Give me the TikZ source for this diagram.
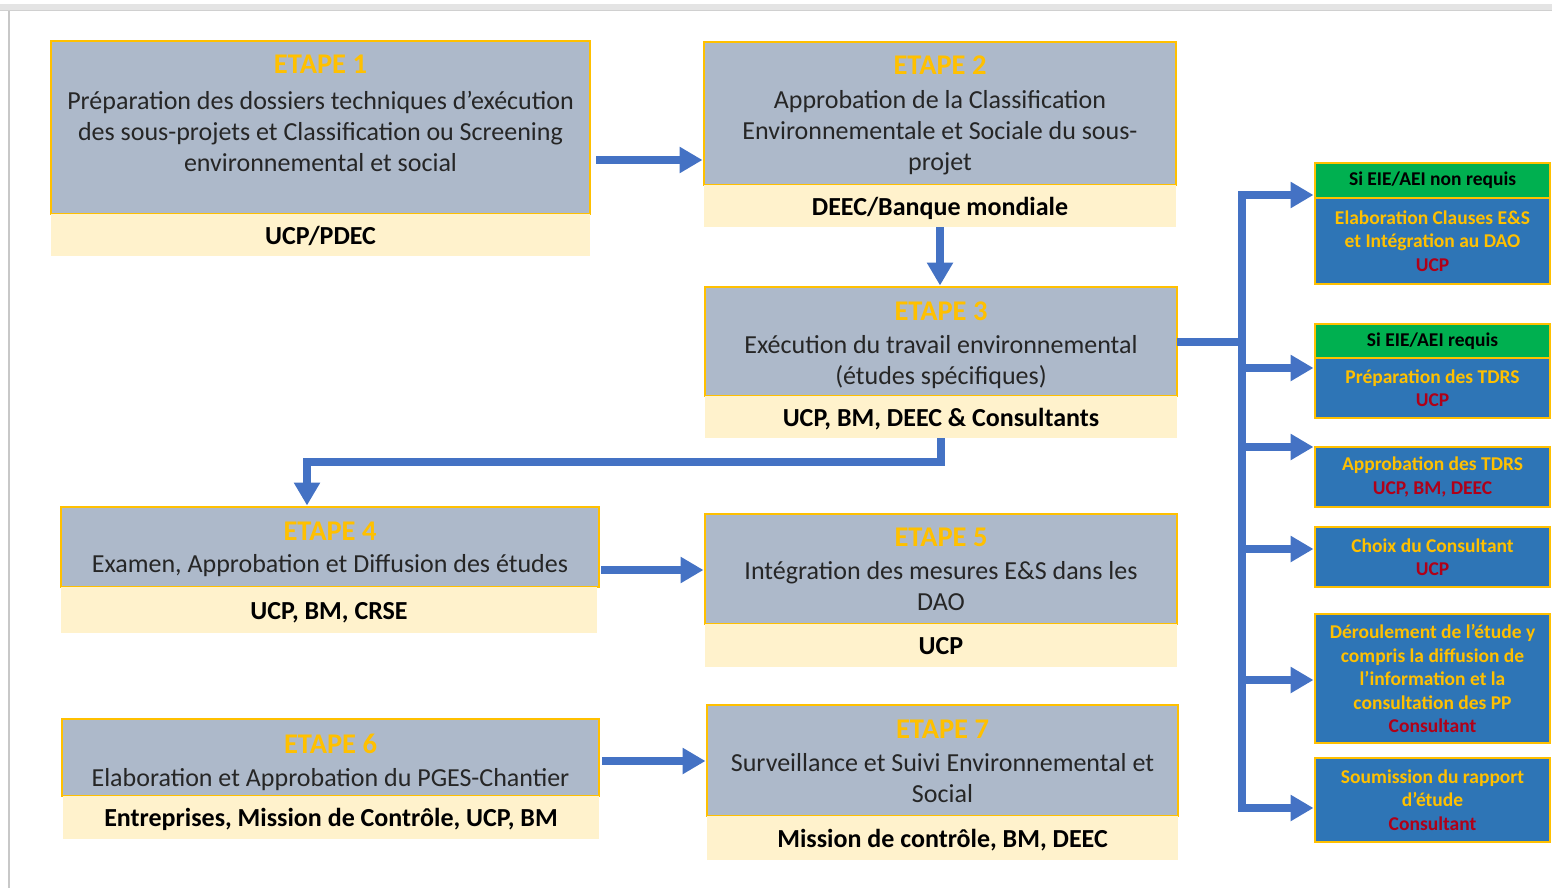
\documentclass[tikz,border=0pt]{standalone}
\usepackage{fontspec}
\setmainfont{Carlito}
\usetikzlibrary{arrows.meta}
\definecolor{graybox}{HTML}{ADB9CA}
\definecolor{beige}{HTML}{FFF2CC}
\definecolor{gold}{HTML}{FFC000}
\definecolor{arrowblue}{HTML}{4472C4}
\definecolor{boxblue}{HTML}{2E75B6}
\definecolor{boxgreen}{HTML}{00B050}
\definecolor{darkred}{HTML}{B00018}
\definecolor{txt}{HTML}{262626}
\definecolor{barfill}{HTML}{E4E4E4}
\definecolor{barline}{HTML}{D0D0D0}
\definecolor{sideline}{HTML}{C8C8C8}
\newcommand{\ttl}{\fontsize{28.5}{31}\selectfont\bfseries\color{gold}}
\newcommand{\who}[1]{\textcolor{darkred}{#1}}
\tikzset{
 graypart/.style={draw=gold, line width=1.5pt, fill=graybox, anchor=north west, inner sep=0pt, outer sep=0pt},
 beigepart/.style={fill=beige, anchor=north west, inner sep=0pt, outer sep=0pt, font=\fontsize{26}{31}\selectfont\bfseries, text=black, text height=18pt, text depth=0pt},
 steptext/.style={anchor=base, inner sep=0pt, text=txt, font=\fontsize{26}{31}\selectfont},
 rbox/.style={draw=gold, line width=1.5pt, fill=boxblue, anchor=north west, inner sep=0pt, outer sep=0pt, minimum width=235pt, text=gold, font=\fontsize{19.5}{23.5}\selectfont\bfseries, align=center},
 rhead/.style={rbox, fill=boxgreen, text=black},
 flow/.style={draw=arrowblue, line width=8pt},
 arr/.style={flow, line join=miter, -{Triangle[length=23pt,width=25pt]}, shorten >=1.5pt},
}
\begin{document}
\begin{tikzpicture}[x=1pt,y=-1pt]
\useasboundingbox (0,0) rectangle (1555,888);
% frame
\fill[barfill] (0,4) rectangle (1552,11);
\draw[barline, line width=1.2pt] (0,10.4) -- (1552,10.4);
\fill[sideline] (8,11) rectangle (10,888);

% ETAPE 1
\node[graypart, minimum width=539pt, minimum height=173pt] (s1g) at (51,41) {};
\node[beigepart, minimum width=539pt, minimum height=42pt] (s1b) at (51,214) {UCP/PDEC};
\node[steptext] (s1t) at ([yshift=-33pt]s1g.north) {\parbox[t]{560pt}{\centering\leavevmode{\ttl ETAPE 1}\\[5pt]Préparation des dossiers techniques d’exécution\\des sous-projets et Classification ou Screening\\environnemental et social}};

% ETAPE 2
\node[graypart, minimum width=472pt, minimum height=143pt] (s2g) at (704,42) {};
\node[beigepart, minimum width=472pt, minimum height=42pt] (s2b) at (704,185) {DEEC/Banque mondiale};
\node[steptext] (s2t) at ([yshift=-33pt]s2g.north) {\parbox[t]{560pt}{\centering\leavevmode{\ttl ETAPE 2}\\[3pt]Approbation de la Classification\\Environnementale et Sociale du sous-\\projet}};

% ETAPE 3
\node[graypart, minimum width=472pt, minimum height=109pt] (s3g) at (705,287) {};
\node[beigepart, minimum width=472pt, minimum height=42pt] (s3b) at (705,396) {UCP, BM, DEEC \& Consultants};
\node[steptext] (s3t) at ([yshift=-33pt]s3g.north) {\parbox[t]{560pt}{\centering\leavevmode{\ttl ETAPE 3}\\[2pt]Exécution du travail environnemental\\(études spécifiques)}};

% ETAPE 4
\node[graypart, minimum width=538pt, minimum height=80pt] (s4g) at (61,507) {};
\node[beigepart, minimum width=536pt, minimum height=46pt] (s4b) at (61,587) {UCP, BM, CRSE};
\node[steptext] (s4t) at ([yshift=-33pt]s4g.north) {\parbox[t]{560pt}{\centering\leavevmode{\ttl ETAPE 4}\\[1pt]Examen, Approbation et Diffusion des études}};

% ETAPE 5
\node[graypart, minimum width=472pt, minimum height=110pt] (s5g) at (705,514) {};
\node[beigepart, minimum width=472pt, minimum height=43pt] (s5b) at (705,624) {UCP};
\node[steptext] (s5t) at ([yshift=-32pt]s5g.north) {\parbox[t]{560pt}{\centering\leavevmode{\ttl ETAPE 5}\\[2pt]Intégration des mesures E\&S dans les\\DAO}};

% ETAPE 6
\node[graypart, minimum width=537pt, minimum height=77pt] (s6g) at (62,719) {};
\node[beigepart, minimum width=536pt, minimum height=43pt] (s6b) at (63,796) {Entreprises, Mission de Contrôle, UCP, BM};
\node[steptext] (s6t) at ([yshift=-34pt]s6g.north) {\parbox[t]{560pt}{\centering\leavevmode{\ttl ETAPE 6}\\[2pt]Elaboration et Approbation du PGES-Chantier}};

% ETAPE 7
\node[graypart, minimum width=471pt, minimum height=111pt] (s7g) at (707,705) {};
\node[beigepart, minimum width=471pt, minimum height=44pt] (s7b) at (707,816) {Mission de contrôle, BM, DEEC};
\node[steptext] (s7t) at ([yshift=-33pt]s7g.north) {\parbox[t]{560pt}{\centering\leavevmode{\ttl ETAPE 7}\\[2pt]Surveillance et Suivi Environnemental et\\Social}};

% right column
\node[rhead, minimum height=35pt] (rAh) at (1315,163) {Si EIE/AEI non requis};
\node[rbox, minimum height=86pt] (rAb) at (1315,198) {Elaboration Clauses E\&S\\et Intégration au DAO\\\who{UCP}};
\node[rhead, minimum height=34pt] (rBh) at (1315,324) {Si EIE/AEI requis};
\node[rbox, minimum height=60pt] (rBb) at (1315,358) {Préparation des TDRS\\\who{UCP}};
\node[rbox, minimum height=60pt] (rC) at (1315,447) {Approbation des TDRS\\\who{UCP, BM, DEEC}};
\node[rbox, minimum height=60pt] (rD) at (1315,527) {Choix du Consultant\\\who{UCP}};
\node[rbox, minimum height=129pt] (rE) at (1315,614) {Déroulement de l’étude y\\compris la diffusion de\\l’information et la\\consultation des PP\\\who{Consultant}};
\node[rbox, minimum height=84pt] (rF) at (1315,758) {Soumission du rapport\\d’étude\\\who{Consultant}};

% connectors
\coordinate (a12) at (0,160);
\draw[arr] ([xshift=6pt]s1g.east |- a12) -- (s2g.west |- a12);
\draw[arr] (s2b.south) -- (s2b.south |- s3g.north);
\coordinate (k34) at (307,462);
\draw[arr] (s3b.south) |- (k34) -- (k34 |- s4g.north);
\coordinate (a45) at (0,570);
\draw[arr] ([xshift=2pt]s4g.east |- a45) -- (s5g.west |- a45);
\coordinate (a67) at (0,761);
\draw[arr] ([xshift=3pt]s6g.east |- a67) -- (s7g.west |- a67);

% branch bus
\coordinate (jT) at (1242,195);
\coordinate (jB) at (1242,808);
\draw[flow] (s3g.east) -- (s3g.east -| jT);
\draw[arr] (jB) -- (jT) -- (jT -| rAh.west);
\draw[arr] (jT) -- (jB) -- (jB -| rF.west);
\coordinate (bB) at (1242,368);
\coordinate (bC) at (1242,447);
\coordinate (bD) at (1242,549);
\coordinate (bE) at (1242,680);
\draw[arr] (bB) -- (bB -| rBb.west);
\draw[arr] (bC) -- (bC -| rC.west);
\draw[arr] (bD) -- (bD -| rD.west);
\draw[arr] (bE) -- (bE -| rE.west);
\end{tikzpicture}
\end{document}
